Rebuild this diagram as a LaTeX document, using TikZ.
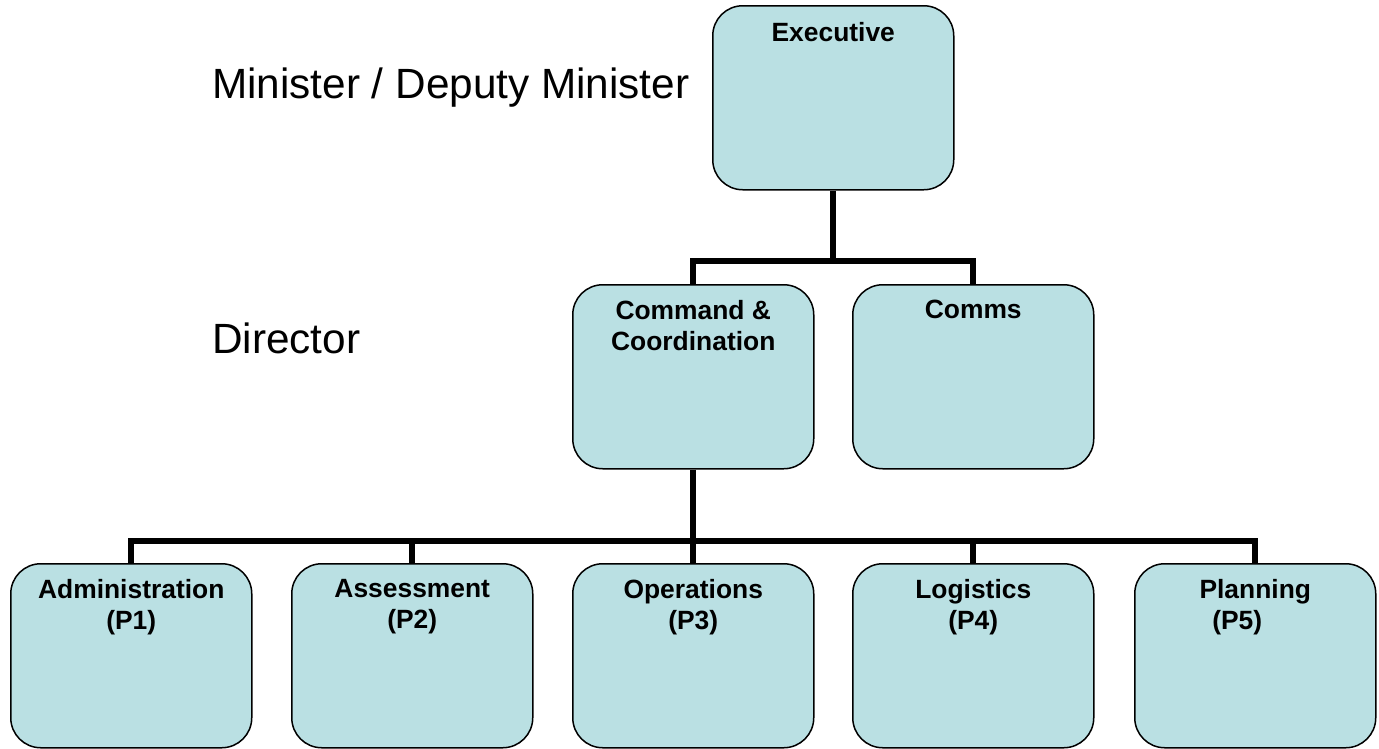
\documentclass[tikz,border=0pt]{standalone}
\usepackage{fontspec}
\setmainfont{Liberation Sans}
\definecolor{boxfill}{RGB}{186,224,227}
\begin{document}
\begin{tikzpicture}[x=1pt,y=-1pt,
 orgbox/.style={draw=black, line width=1.5pt, fill=boxfill, rounded corners=30pt, minimum width=241pt, minimum height=184pt, inner sep=0pt, anchor=north west},
 boxtext/.style={font=\fontsize{26.4}{31}\selectfont\bfseries, align=center, inner sep=0pt, anchor=north},
 level/.style={font=\fontsize{42.3}{50}\selectfont, inner sep=0pt, anchor=base west},
 link/.style={line width=6pt, line join=miter}]
\useasboundingbox (0,0) rectangle (1379,748);
\fill[white] (0,0) rectangle (1379,748);
% boxes
\node[orgbox] (ex) at (712,5) {};
\node[orgbox] (cc) at (572,284) {};
\node[orgbox] (cm) at (852,284) {};
\node[orgbox] (p1) at (10,563) {};
\node[orgbox] (p2) at (291,563) {};
\node[orgbox] (p3) at (572,563) {};
\node[orgbox] (p4) at (852,563) {};
\node[orgbox] (p5) at (1134,563) {};
% box texts
\node[boxtext] (ext) at ([yshift=-17pt]ex.north) {Executive};
\node[boxtext] (cct) at ([yshift=-16pt]cc.north) {Command \&\\Coordination};
\node[boxtext] (cmt) at ([yshift=-16pt]cm.north) {Comms};
\node[boxtext] (p1t) at ([yshift=-16pt]p1.north) {Administration\\(P1)};
\node[boxtext] (p2t) at ([yshift=-16pt]p2.north) {Assessment\\(P2)};
\node[boxtext] (p3t) at ([yshift=-16pt]p3.north) {Operations\\(P3)};
\node[boxtext] (p4t) at ([yshift=-16pt]p4.north) {Logistics\\(P4)};
\node[boxtext] (p5t) at ([yshift=-16pt]p5.north) {Planning\\(P5)\hspace*{36pt}};
% level labels
\node[level] (lmin) at (212,98) {Minister / Deputy Minister};
\node[level] (ldir) at (212,353) {Director};
% connectors
\coordinate (j1) at ([yshift=-70pt]ex.south);
\draw[link] (ex.south) -- (j1);
\draw[link] (cc.north) |- (j1) -| (cm.north);
\coordinate (j2) at ([yshift=-71pt]cc.south);
\draw[link] (cc.south) -- (j2);
\draw[link] (p1.north) |- (j2) -| (p5.north);
\draw[link] (p2.north) -- (p2.north |- j2);
\draw[link] (p3.north) -- (p3.north |- j2);
\draw[link] (p4.north) -- (p4.north |- j2);
\end{tikzpicture}
\end{document}
